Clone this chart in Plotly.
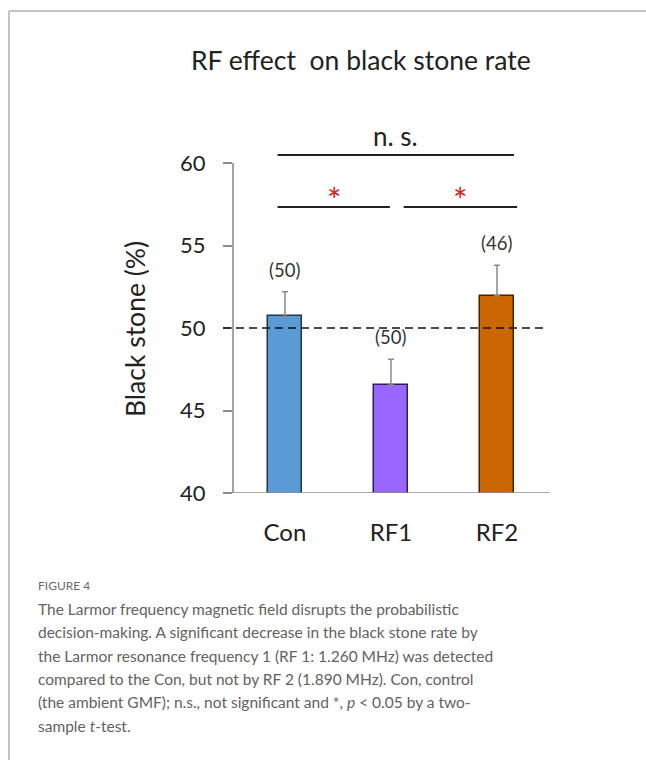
import plotly.graph_objects as go

# ---- data ----
categories = ["Con", "RF1", "RF2"]
rate = [50.7, 46.55, 51.95]
sem = [1.5, 1.55, 1.85]
n_counts = ["(50)", "(50)", "(46)"]
bar_colors = ["#5B9BD5", "#9966FF", "#CC6600"]
bar_edges = ["#1F3550", "#2E1F5E", "#4A2400"]
y_ticks = [40, 45, 50, 55, 60]
chance_level = 50
# brackets: (from, to, level, label, label colour)
brackets = [
    (-0.07, 2.16, 60.48, "n. s.", "#222222"),
    (-0.07, 0.99, 57.33, "*", "#D42020"),
    (1.12, 2.19, 57.33, "*", "#D42020"),
]

title = "RF effect  on black stone rate"
y_title = "Black stone (%)"
fig_label = "FIGURE 4"
caption_lines = [
    "The Larmor frequency magnetic field disrupts the probabilistic",
    "decision-making. A significant decrease in the black stone rate by",
    "the Larmor resonance frequency 1 (RF 1: 1.260 MHz) was detected",
    "compared to the Con, but not by RF 2 (1.890 MHz). Con, control",
    "(the ambient GMF); n.s., not significant and *, <i>p</i> < 0.05 by a two-",
    "sample <i>t</i>-test.",
]

# ---- layout geometry (pixels) ----
W, H = 646, 760
L, R, T, B = 233, 96, 120, 267
PW, PH = W - L - R, H - T - B
Y0, Y1 = 40, 40 + PH / 16.5
X0, X1 = -0.49, 2.5


def px(x):
    return (x - L) / PW


def py(y):
    return (H - B - y) / PH


FONT = "Lato"
AX = "#8c8c8c"

fig = go.Figure()
fig.add_trace(go.Bar(
    x=list(range(len(categories))), y=rate, width=0.32,
    marker=dict(color=bar_colors, line=dict(color=bar_edges, width=1.5)),
    error_y=dict(type="data", array=sem, arrayminus=[0] * len(sem), symmetric=False,
                 color="#8a8a8a", thickness=1.5, width=3),
    showlegend=False, hoverinfo="skip",
))

shapes = []
# axes
shapes.append(dict(type="line", xref="paper", yref="y", x0=0, x1=0, y0=Y0, y1=max(y_ticks),
                   line=dict(color=AX, width=1.6)))
shapes.append(dict(type="line", xref="paper", yref="y", x0=px(223), x1=1, y0=Y0, y1=Y0,
                   line=dict(color=AX, width=1.6)))
# chance level
shapes.append(dict(type="line", xref="paper", yref="y", x0=px(223), x1=px(548),
                   y0=chance_level, y1=chance_level,
                   line=dict(color="#111111", width=1.6, dash="8px,5px")))

annotations = []
for a, b, lvl, lab, col in brackets:
    shapes.append(dict(type="line", xref="x", yref="y", x0=a, x1=b, y0=lvl, y1=lvl,
                       line=dict(color="#222222", width=2)))
    if lab == "*":
        annotations.append(dict(x=(a + b) / 2, y=lvl, xref="x", yref="y", text=lab,
                                showarrow=False, yanchor="middle", yshift=8,
                                font=dict(family=FONT, size=34, color=col)))
    else:
        annotations.append(dict(x=(a + b) / 2, y=lvl, xref="x", yref="y", text=lab,
                                showarrow=False, yanchor="bottom", yshift=1,
                                font=dict(family=FONT, size=26, color=col)))

for i, (v, e, n) in enumerate(zip(rate, sem, n_counts)):
    annotations.append(dict(x=i, y=v + e, xref="x", yref="y", text=n, showarrow=False,
                            yanchor="middle", yshift=22,
                            font=dict(family=FONT, size=18.5, color="#333333")))

# title and y title
annotations.append(dict(x=px(361), y=py(60), xref="paper", yref="paper", text=title,
                        showarrow=False, xanchor="center", yanchor="middle",
                        font=dict(family=FONT, size=26.5, color="#222222")))
annotations.append(dict(x=px(135), y=py(329), xref="paper", yref="paper", text=y_title,
                        showarrow=False, textangle=-90, xanchor="center", yanchor="middle",
                        font=dict(family=FONT, size=26.5, color="#222222")))
# caption
annotations.append(dict(x=px(36), y=py(585), xref="paper", yref="paper", text=fig_label,
                        showarrow=False, xanchor="left", yanchor="middle",
                        font=dict(family=FONT, size=12, color="#6a6a6a")))
for k, line in enumerate(caption_lines):
    annotations.append(dict(x=px(36), y=py(609 + k * 23.3), xref="paper", yref="paper",
                            text=line, showarrow=False, xanchor="left", yanchor="middle",
                            font=dict(family=FONT, size=15.5, color="#626262")))

# frame
shapes.append(dict(type="line", xref="paper", yref="paper", x0=px(9), x1=px(W + 5),
                   y0=py(11), y1=py(11), line=dict(color="#c4c4c4", width=2)))
shapes.append(dict(type="line", xref="paper", yref="paper", x0=px(9), x1=px(9),
                   y0=py(11), y1=py(H + 5), line=dict(color="#c4c4c4", width=2)))

fig.update_layout(
    width=W, height=H, margin=dict(l=L, r=R, t=T, b=B, pad=0),
    paper_bgcolor="white", plot_bgcolor="white",
    shapes=shapes, annotations=annotations, bargap=0,
    xaxis=dict(range=[X0, X1], tickvals=list(range(len(categories))), ticktext=categories,
               showline=False, showgrid=False, zeroline=False, ticks="outside", ticklen=18,
               tickcolor="rgba(0,0,0,0)", tickfont=dict(family=FONT, size=24, color="#222222")),
    yaxis=dict(range=[Y0, Y1], tickvals=y_ticks, showline=False, showgrid=False,
               zeroline=False, ticks="outside", ticklen=9, tickwidth=1.6, tickcolor=AX,
               ticklabelstandoff=13, tickfont=dict(family=FONT, size=22, color="#222222")),
)

fig.write_html("out.html", config={"displayModeBar": False},
               post_script="document.body.style.margin='0';")
